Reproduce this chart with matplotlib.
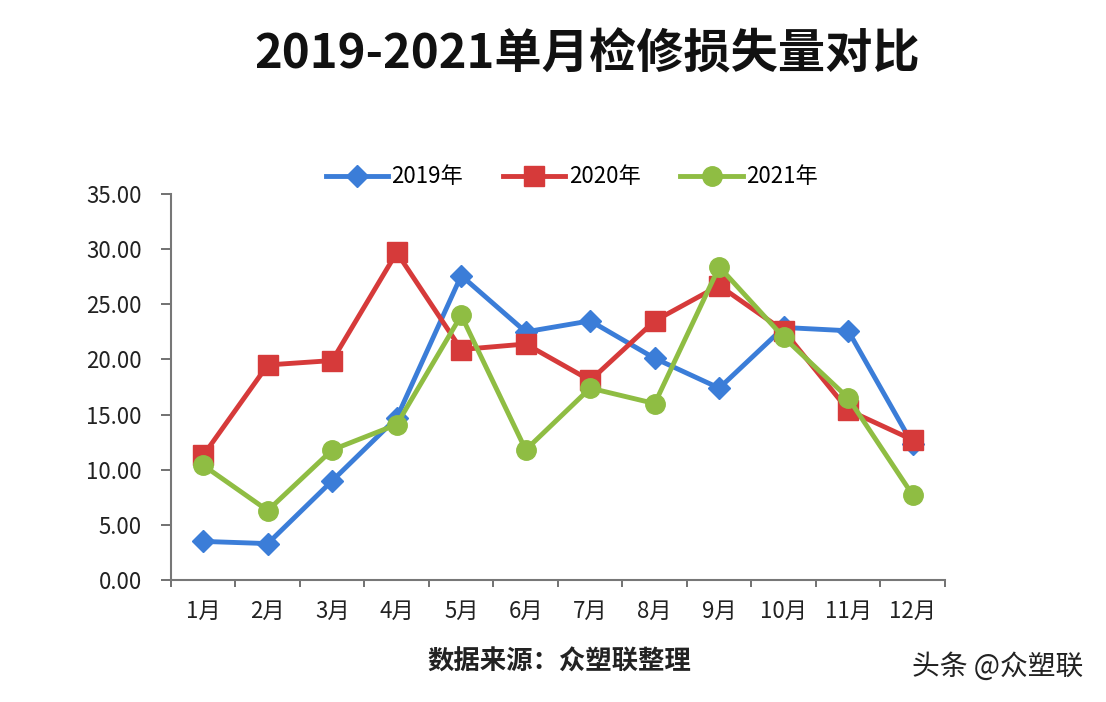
import matplotlib
matplotlib.use("Agg")
import matplotlib.pyplot as plt

plt.rcParams['font.family'] = ['Noto Sans CJK SC', 'DejaVu Sans']

months = ['1月', '2月', '3月', '4月', '5月', '6月', '7月', '8月', '9月', '10月', '11月', '12月']
loss_2019 = [3.5, 3.3, 9.0, 14.7, 27.6, 22.5, 23.5, 20.1, 17.4, 22.9, 22.6, 12.3]
loss_2020 = [11.3, 19.5, 19.9, 29.7, 20.9, 21.4, 18.1, 23.5, 26.7, 22.6, 15.4, 12.7]
loss_2021 = [10.4, 6.3, 11.8, 14.1, 24.0, 11.8, 17.4, 16.0, 28.4, 22.0, 16.5, 7.7]
y_ticks = [0, 5, 10, 15, 20, 25, 30, 35]

fig = plt.figure(figsize=(11.06, 7.02), dpi=100)
ax = fig.add_axes([0.1546, 0.1738, 0.6998, 0.5498])

x = range(len(months))
ax.plot(x, loss_2019, color='#3b7dd8', lw=3.5, marker='D', ms=11, label='2019年')
ax.plot(x, loss_2020, color='#d63a3a', lw=3.5, marker='s', ms=14, label='2020年')
ax.plot(x, loss_2021, color='#8fbd43', lw=3.5, marker='o', ms=14, label='2021年')

ax.set_xlim(-0.5, len(months) - 0.5)
ax.set_ylim(0, 35)
ax.set_yticks(y_ticks)
ax.set_yticklabels([f'{v:.2f}' for v in y_ticks], fontsize=16, color='#222222')
ax.set_xticks([i + 0.5 for i in range(-1, len(months))])
ax.set_xticklabels([])
ax.set_xticks(list(x), minor=True)
ax.set_xticklabels(months, minor=True, fontsize=16, color='#222222')
ax.tick_params(axis='x', which='minor', length=0, pad=14)
ax.tick_params(axis='x', which='major', length=5, color='#666666', width=1.3)
ax.tick_params(axis='y', length=7, color='#666666', width=1.3, pad=14)

for s in ['top', 'right']:
    ax.spines[s].set_visible(False)
for s in ['left', 'bottom']:
    ax.spines[s].set_color('#777777')
    ax.spines[s].set_linewidth(1.5)

fig.legend(*ax.get_legend_handles_labels(), loc='center', bbox_to_anchor=(0.517, 0.748),
           ncol=3, frameon=False, fontsize=16, handlelength=2.8, handletextpad=0.15,
           columnspacing=1.8)

fig.text(0.531, 0.922, '2019-2021单月检修损失量对比', ha='center', va='center',
         fontsize=34, fontweight='bold', color='#111111')
fig.text(0.506, 0.057, '数据来源：众塑联整理', ha='center', va='center',
         fontsize=19, fontweight='bold', color='#222222')
fig.text(0.902, 0.050, '头条 @众塑联', ha='center', va='center',
         fontsize=20, color='#222222')

fig.savefig('out.png', dpi=100, facecolor='white')
